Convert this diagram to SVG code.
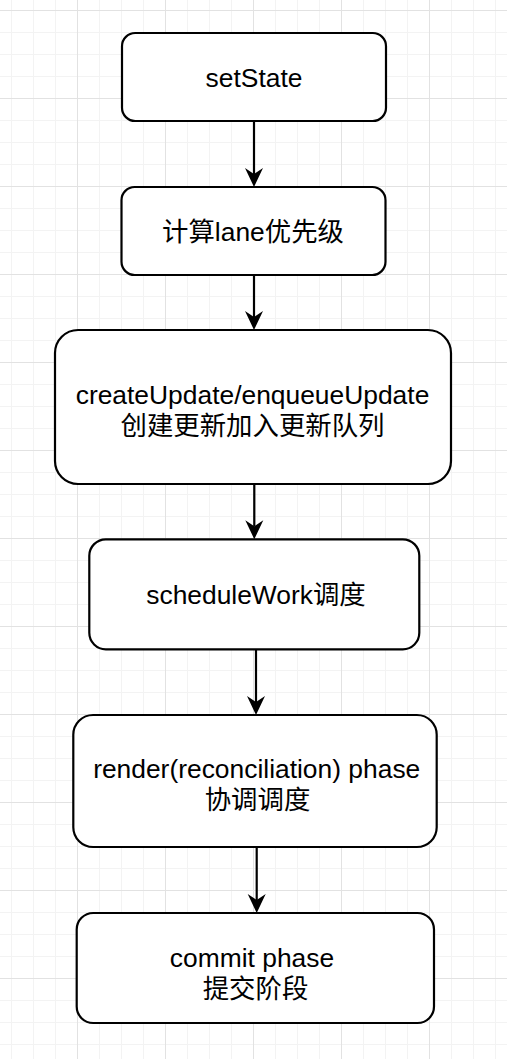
<svg xmlns="http://www.w3.org/2000/svg" width="507" height="1059" viewBox="0 0 507 1059">
  <style>
    .box { fill: #ffffff; stroke: #000000; stroke-width: 2.2; }
    .lbl { font-family: "Liberation Sans", Arial, "Noto Sans CJK SC", sans-serif; font-size: 26.4px; fill: #000000; text-anchor: middle; }
    .edge { fill: none; stroke: #000000; stroke-width: 2.2; }
  </style>
  <defs>
    <pattern id="grid" x="-11" y="-78" width="88" height="88" patternUnits="userSpaceOnUse">
      <rect x="22" y="0" width="1" height="88" fill="#f3f3f3"/>
      <rect x="44" y="0" width="1" height="88" fill="#f3f3f3"/>
      <rect x="66" y="0" width="1" height="88" fill="#f3f3f3"/>
      <rect x="0" y="22" width="88" height="1" fill="#f3f3f3"/>
      <rect x="0" y="44" width="88" height="1" fill="#f3f3f3"/>
      <rect x="0" y="66" width="88" height="1" fill="#f3f3f3"/>
      <rect x="0" y="0" width="1" height="88" fill="#e2e2e2"/>
      <rect x="0" y="0" width="88" height="1" fill="#e2e2e2"/>
    </pattern>
    <marker id="arrow" markerUnits="userSpaceOnUse" markerWidth="20" markerHeight="20" viewBox="0 0 20 20" refX="6" refY="10" orient="auto">
      <path d="M0,1 L19,10 L0,19 L6,10 Z" fill="#000000"/>
    </marker>
  </defs>
  <rect x="0" y="0" width="507" height="1059" fill="#ffffff"/>
  <rect x="0" y="0" width="507" height="1059" fill="url(#grid)"/>

  <g id="connectors">
    <path class="edge" d="M254,121 L254,174" marker-end="url(#arrow)"/>
    <path class="edge" d="M254,275 L254,317" marker-end="url(#arrow)"/>
    <path class="edge" d="M254.3,484 L254.3,526.3" marker-end="url(#arrow)"/>
    <path class="edge" d="M256,649.3 L256,702" marker-end="url(#arrow)"/>
    <path class="edge" d="M256.7,847 L256.7,900" marker-end="url(#arrow)"/>
  </g>

  <g id="node-setState">
    <rect class="box" x="122" y="33" width="264" height="88" rx="13.2" ry="13.2"/>
    <text class="lbl" x="254" y="87">setState</text>
  </g>
  <g id="node-lane">
    <rect class="box" x="121.5" y="187" width="264" height="88" rx="13.2" ry="13.2"/>
    <text class="lbl" x="253" y="241">计算lane优先级</text>
  </g>
  <g id="node-createUpdate">
    <rect class="box" x="55" y="330" width="396" height="154" rx="23.1" ry="23.1"/>
    <text class="lbl" x="252.5" y="404">createUpdate/enqueueUpdate</text>
    <text class="lbl" x="252.5" y="434.5">创建更新加入更新队列</text>
  </g>
  <g id="node-scheduleWork">
    <rect class="box" x="89.3" y="539.3" width="330" height="110" rx="16.5" ry="16.5"/>
    <text class="lbl" x="256" y="604.3">scheduleWork调度</text>
  </g>
  <g id="node-render">
    <rect class="box" x="73.3" y="715" width="363.4" height="132" rx="19.8" ry="19.8"/>
    <text class="lbl" x="256.7" y="778.3">render(reconciliation) phase</text>
    <text class="lbl" x="257.5" y="809">协调调度</text>
  </g>
  <g id="node-commit">
    <rect class="box" x="76.7" y="913" width="357.3" height="110" rx="16.5" ry="16.5"/>
    <text class="lbl" x="252" y="967.3">commit phase</text>
    <text class="lbl" x="255.5" y="998">提交阶段</text>
  </g>
</svg>
